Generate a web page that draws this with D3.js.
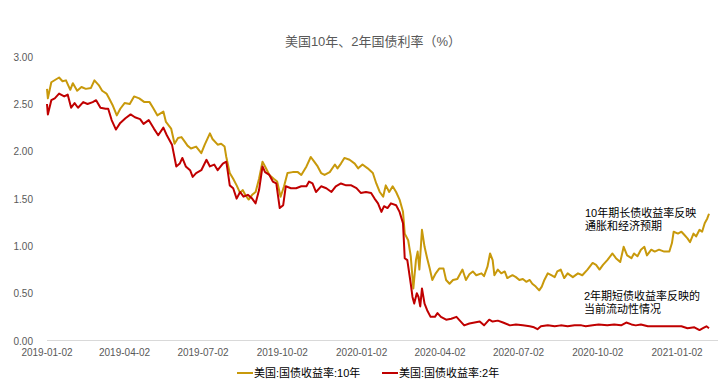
<!DOCTYPE html>
<html>
<head>
<meta charset="utf-8">
<script src="https://cdn.jsdelivr.net/npm/d3@7"></script>
<style>
  body { margin: 0; background: #fff; }
  svg text { font-family: "Liberation Sans", "Noto Sans CJK SC", sans-serif; }
</style>
</head>
<body>
<div id="chart"></div>
<script>
const width = 725;
const height = 386;

const title = "美国10年、2年国债利率（%）";
const seriesNames = ["美国:国债收益率:10年", "美国:国债收益率:2年"];
const seriesColors = ["#C8990B", "#C00000"];
const yTicks = [0, 0.5, 1, 1.5, 2, 2.5, 3];
const xTickLabels = ["2019-01-02", "2019-04-02", "2019-07-02", "2019-10-02", "2020-01-02",
                     "2020-04-02", "2020-07-02", "2020-10-02", "2021-01-02"];
const notes10 = ["10年期长债收益率反映", "通胀和经济预期"];
const notes2 = ["2年期短债收益率反映的", "当前流动性情况"];

// 10年期
const dates10 = ["2019-01-02","2019-01-03","2019-01-07","2019-01-16","2019-01-20","2019-01-24","2019-01-29","2019-02-01",
  "2019-02-06","2019-02-11","2019-02-16","2019-02-22","2019-02-26","2019-03-03","2019-03-07","2019-03-12","2019-03-15",
  "2019-03-19","2019-03-24","2019-03-28","2019-04-02","2019-04-08","2019-04-13","2019-04-19","2019-04-25","2019-05-01",
  "2019-05-05","2019-05-10","2019-05-17","2019-05-20","2019-05-26","2019-05-30","2019-06-03","2019-06-07","2019-06-11",
  "2019-06-14","2019-06-18","2019-06-24","2019-06-30","2019-07-04","2019-07-10","2019-07-13","2019-07-19","2019-07-23",
  "2019-07-27","2019-07-29","2019-08-02","2019-08-06","2019-08-10","2019-08-14","2019-08-17","2019-08-20","2019-08-24",
  "2019-08-28","2019-09-01","2019-09-05","2019-09-09","2019-09-12","2019-09-17","2019-09-22","2019-09-26","2019-09-30",
  "2019-10-04","2019-10-08","2019-10-14","2019-10-20","2019-10-24","2019-10-30","2019-11-04","2019-11-08","2019-11-12",
  "2019-11-16","2019-11-20","2019-11-26","2019-12-02","2019-12-05","2019-12-09","2019-12-13","2019-12-19","2019-12-25",
  "2019-12-29","2020-01-03","2020-01-09","2020-01-15","2020-01-19","2020-01-23","2020-01-27","2020-01-30","2020-02-03",
  "2020-02-07","2020-02-11","2020-02-15","2020-02-19","2020-02-21","2020-02-25","2020-02-28","2020-03-02","2020-03-05",
  "2020-03-07","2020-03-09","2020-03-12","2020-03-15","2020-03-18","2020-03-21","2020-03-24","2020-03-28","2020-04-01",
  "2020-04-06","2020-04-09","2020-04-13","2020-04-17","2020-04-22","2020-04-28","2020-05-02","2020-05-06","2020-05-10",
  "2020-05-14","2020-05-20","2020-05-23","2020-05-27","2020-05-30","2020-06-02","2020-06-04","2020-06-08","2020-06-12",
  "2020-06-16","2020-06-19","2020-06-25","2020-06-29","2020-07-03","2020-07-07","2020-07-11","2020-07-15","2020-07-18",
  "2020-07-22","2020-07-26","2020-07-29","2020-08-01","2020-08-05","2020-08-09","2020-08-13","2020-08-16","2020-08-20",
  "2020-08-24","2020-08-28","2020-09-03","2020-09-09","2020-09-14","2020-09-20","2020-09-26","2020-09-30","2020-10-04",
  "2020-10-08","2020-10-13","2020-10-19","2020-10-23","2020-10-28","2020-11-01","2020-11-05","2020-11-10","2020-11-13",
  "2020-11-17","2020-11-21","2020-11-25","2020-11-28","2020-12-03","2020-12-07","2020-12-12","2020-12-18","2020-12-24",
  "2020-12-27","2020-12-29","2021-01-03","2021-01-07","2021-01-10","2021-01-14","2021-01-17","2021-01-21","2021-01-24",
  "2021-01-28","2021-01-31","2021-02-03","2021-02-06","2021-02-08"];
const rate10 = [2.66,2.56,2.73,2.78,2.74,2.75,2.65,2.72,
  2.64,2.68,2.66,2.67,2.75,2.70,2.64,2.61,2.56,
  2.49,2.38,2.45,2.51,2.50,2.58,2.56,2.52,2.52,
  2.46,2.38,2.42,2.31,2.24,2.08,2.14,2.15,2.10,
  2.06,2.03,2.05,1.98,2.07,2.19,2.13,2.07,2.08,
  2.05,1.94,1.77,1.71,1.64,1.56,1.59,1.54,1.49,
  1.54,1.57,1.71,1.89,1.84,1.75,1.71,1.68,1.52,
  1.63,1.77,1.78,1.78,1.75,1.84,1.94,1.89,1.84,
  1.77,1.75,1.78,1.86,1.82,1.87,1.93,1.91,1.87,
  1.82,1.86,1.82,1.77,1.66,1.57,1.52,1.64,1.57,
  1.63,1.57,1.49,1.36,1.13,1.06,0.89,0.55,0.85,
  0.94,0.75,1.17,0.99,0.87,0.76,0.64,0.71,0.76,
  0.76,0.64,0.60,0.64,0.65,0.75,0.64,0.70,0.73,
  0.69,0.71,0.68,0.78,0.92,0.85,0.69,0.75,0.71,
  0.73,0.66,0.69,0.67,0.64,0.65,0.62,0.64,0.60,
  0.57,0.53,0.57,0.64,0.71,0.69,0.67,0.73,0.75,
  0.66,0.71,0.67,0.71,0.69,0.75,0.82,0.80,0.75,
  0.80,0.85,0.92,0.87,0.83,0.99,0.90,0.87,0.92,
  0.89,0.96,0.99,0.90,0.96,0.94,0.96,0.94,0.94,
  1.03,1.15,1.13,1.15,1.12,1.08,1.04,1.13,1.10,
  1.17,1.15,1.24,1.29,1.34];

// 2年期
const dates2 = ["2019-01-02","2019-01-03","2019-01-07","2019-01-11","2019-01-16","2019-01-22","2019-01-26","2019-01-30",
  "2019-02-03","2019-02-07","2019-02-13","2019-02-18","2019-02-24","2019-02-28","2019-03-05","2019-03-11","2019-03-14",
  "2019-03-18","2019-03-23","2019-03-28","2019-04-03","2019-04-09","2019-04-14","2019-04-20","2019-04-24","2019-04-30",
  "2019-05-06","2019-05-11","2019-05-17","2019-05-21","2019-05-27","2019-06-01","2019-06-05","2019-06-08","2019-06-12",
  "2019-06-17","2019-06-20","2019-06-24","2019-06-30","2019-07-06","2019-07-10","2019-07-15","2019-07-19","2019-07-25",
  "2019-07-29","2019-07-31","2019-08-02","2019-08-06","2019-08-10","2019-08-14","2019-08-18","2019-08-23","2019-08-28",
  "2019-09-01","2019-09-05","2019-09-09","2019-09-12","2019-09-17","2019-09-21","2019-09-25","2019-09-29","2019-10-03",
  "2019-10-06","2019-10-12","2019-10-18","2019-10-24","2019-10-30","2019-11-02","2019-11-06","2019-11-10","2019-11-16",
  "2019-11-22","2019-11-28","2019-12-03","2019-12-09","2019-12-15","2019-12-21","2019-12-27","2020-01-01","2020-01-07",
  "2020-01-13","2020-01-17","2020-01-21","2020-01-25","2020-01-28","2020-02-01","2020-02-05","2020-02-11","2020-02-15",
  "2020-02-19","2020-02-21","2020-02-24","2020-02-28","2020-03-01","2020-03-03","2020-03-06","2020-03-08","2020-03-10",
  "2020-03-12","2020-03-15","2020-03-18","2020-03-22","2020-03-27","2020-03-30","2020-04-03","2020-04-09","2020-04-15",
  "2020-04-21","2020-04-26","2020-04-30","2020-05-06","2020-05-12","2020-05-18","2020-05-23","2020-05-29","2020-06-02",
  "2020-06-08","2020-06-14","2020-06-22","2020-06-29","2020-07-07","2020-07-15","2020-07-20","2020-07-24","2020-07-28",
  "2020-08-05","2020-08-13","2020-08-20","2020-08-28","2020-09-05","2020-09-13","2020-09-18","2020-09-26","2020-10-03",
  "2020-10-13","2020-10-21","2020-10-29","2020-11-04","2020-11-10","2020-11-15","2020-11-21","2020-11-29","2020-12-07",
  "2020-12-14","2020-12-22","2020-12-30","2021-01-07","2021-01-14","2021-01-22","2021-01-28","2021-02-01","2021-02-05",
  "2021-02-08"];
const rate2 = [2.50,2.39,2.54,2.56,2.61,2.58,2.60,2.46,
  2.51,2.46,2.52,2.50,2.52,2.54,2.46,2.45,2.45,
  2.33,2.23,2.30,2.35,2.39,2.36,2.34,2.29,2.33,
  2.24,2.17,2.25,2.17,2.07,1.84,1.87,1.93,1.84,
  1.80,1.73,1.77,1.80,1.91,1.84,1.86,1.80,1.87,
  1.89,1.77,1.64,1.61,1.50,1.57,1.52,1.54,1.50,
  1.45,1.59,1.84,1.78,1.75,1.68,1.66,1.40,1.43,
  1.63,1.61,1.61,1.63,1.63,1.68,1.66,1.57,1.63,
  1.61,1.57,1.63,1.66,1.64,1.64,1.61,1.56,1.57,
  1.56,1.50,1.45,1.36,1.42,1.40,1.45,1.43,1.36,
  1.24,0.87,0.85,0.60,0.46,0.39,0.50,0.46,0.36,
  0.55,0.39,0.32,0.25,0.25,0.29,0.25,0.22,0.23,
  0.25,0.20,0.16,0.18,0.19,0.20,0.16,0.22,0.20,
  0.21,0.19,0.16,0.17,0.16,0.15,0.14,0.12,0.15,
  0.16,0.15,0.16,0.15,0.16,0.16,0.15,0.16,0.17,
  0.16,0.17,0.16,0.19,0.17,0.16,0.17,0.15,0.15,
  0.15,0.15,0.15,0.15,0.13,0.14,0.11,0.13,0.15,
  0.13];

const parse = d3.timeParse("%Y-%m-%d");
const series = [
  dates10.map((d, i) => ({ date: parse(d), value: rate10[i] })),
  dates2.map((d, i) => ({ date: parse(d), value: rate2[i] }))
];

const svg = d3.select("#chart")
  .append("svg")
  .attr("width", width)
  .attr("height", height);

const x0 = parse("2019-01-02");
const xEnd = parse("2021-02-19");
const x = d3.scaleTime()
  .domain([x0, xEnd])
  .range([47, 47 + 0.862 * d3.timeDay.count(x0, xEnd)]);

const y = d3.scaleLinear()
  .domain([0, 3])
  .range([340.5, 56.7]);

// 标题
svg.append("text")
  .attr("x", 373)
  .attr("y", 46)
  .attr("text-anchor", "middle")
  .attr("font-size", 13)
  .attr("fill", "#595959")
  .text(title);

// y 轴
svg.append("g")
  .selectAll("text")
  .data(yTicks)
  .enter()
  .append("text")
  .attr("x", 33)
  .attr("y", d => y(d) + 4)
  .attr("text-anchor", "end")
  .attr("font-size", 10)
  .attr("fill", "#595959")
  .text(d => d3.format(".2f")(d));

// x 轴
svg.append("line")
  .attr("x1", 47)
  .attr("x2", 718)
  .attr("y1", y(0))
  .attr("y2", y(0))
  .attr("stroke", "#d9d9d9")
  .attr("stroke-width", 1);

svg.append("g")
  .selectAll("text")
  .data(xTickLabels)
  .enter()
  .append("text")
  .attr("x", d => x(parse(d)))
  .attr("y", 356)
  .attr("text-anchor", "middle")
  .attr("font-size", 10)
  .attr("fill", "#595959")
  .text(d => d);

// 折线
const line = d3.line()
  .x(d => x(d.date))
  .y(d => y(d.value));

svg.selectAll(".series")
  .data(series)
  .enter()
  .append("path")
  .attr("class", "series")
  .attr("d", line)
  .attr("fill", "none")
  .attr("stroke", (d, i) => seriesColors[i])
  .attr("stroke-width", 2)
  .attr("stroke-linejoin", "round");

// 注释
const addNote = (lines, x0, y0) => {
  svg.append("text")
    .attr("x", x0)
    .attr("y", y0)
    .attr("font-size", 11)
    .attr("fill", "#000")
    .selectAll("tspan")
    .data(lines)
    .enter()
    .append("tspan")
    .attr("x", x0)
    .attr("dy", (d, i) => i === 0 ? 0 : 13)
    .text(d => d);
};
addNote(notes10, 585, 217);
addNote(notes2, 584, 300);

// 图例
const legendX = [237, 382];
const legend = svg.append("g")
  .selectAll("g")
  .data(seriesNames)
  .enter()
  .append("g")
  .attr("transform", (d, i) => `translate(${legendX[i]},373)`);

legend.append("line")
  .attr("x1", 0)
  .attr("x2", 16)
  .attr("stroke", (d, i) => seriesColors[i])
  .attr("stroke-width", 2);

legend.append("text")
  .attr("x", 17)
  .attr("y", 4)
  .attr("font-size", 11)
  .attr("fill", "#000")
  .text(d => d);
</script>
</body>
</html>
